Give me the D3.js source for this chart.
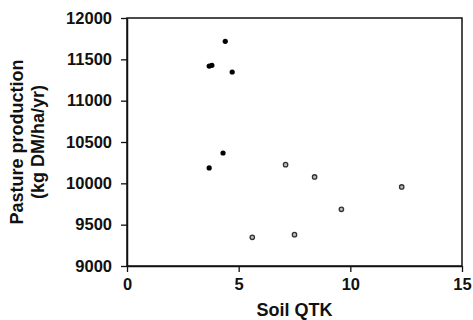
<!DOCTYPE html>
<html><head><meta charset="utf-8">
<script src="https://cdn.jsdelivr.net/npm/d3@7"></script>
<style>body{margin:0;background:#fff}svg{display:block}text{font-family:Arial,"Liberation Sans",sans-serif;font-weight:bold;fill:#111}</style>
</head><body><svg id="c" width="473" height="320"></svg>
<script>
const filledX = [4.40, 3.68, 3.80, 4.71, 4.30, 3.68];
const filledY = [11718, 11419, 11428, 11347, 10367, 10186];
const openX = [7.10, 8.40, 12.30, 9.60, 5.61, 7.50];
const openY = [10226, 10077, 9956, 9686, 9347, 9379];
const xTicks = [0, 5, 10, 15];
const yTicks = [9000, 9500, 10000, 10500, 11000, 11500, 12000];
const xTitle = "Soil QTK";
const yTitle = ["Pasture production", "(kg DM/ha/yr)"];

const svg = d3.select("#c");
const L = 127, R = 462, T = 18, B = 266;
const x = d3.scaleLinear().domain([0, 15]).range([L, R]);
const y = d3.scaleLinear().domain([9000, 12000]).range([B, T]);

// frame
svg.append("rect").attr("x", L).attr("y", T).attr("width", R - L).attr("height", B - T)
  .attr("fill", "none").attr("stroke", "#111").attr("stroke-width", 1.5);

const xa = svg.append("g").attr("transform", `translate(0,${B})`)
  .call(d3.axisBottom(x).tickValues(xTicks).tickSize(6).tickSizeOuter(0).tickPadding(6));
const ya = svg.append("g").attr("transform", `translate(${L},0)`)
  .call(d3.axisLeft(y).tickValues(yTicks).tickSize(6).tickSizeOuter(0).tickPadding(9).tickFormat(d3.format("d")));
[xa, ya].forEach(a => {
  a.select(".domain").attr("stroke", "#111").attr("stroke-width", 1.5);
  a.selectAll(".tick line").attr("stroke", "#111").attr("stroke-width", 1.3);
  a.selectAll("text").style("font-size", "16.5px").style("font-weight", "bold").attr("fill", "#111")
   .style("font-family", "Arial, 'Liberation Sans', sans-serif");
});

svg.append("text").attr("x", (L + R) / 2).attr("y", 316).attr("text-anchor", "middle")
  .style("font-size", "18px").text(xTitle);
yTitle.forEach((t, i) => {
  svg.append("text").attr("transform", `translate(${23 + i * 21},${(T + B) / 2}) rotate(-90)`)
    .attr("text-anchor", "middle").style("font-size", "18px").text(t);
});

const filled = filledX.map((v, i) => ({x: v, y: filledY[i]}));
const open = openX.map((v, i) => ({x: v, y: openY[i]}));
svg.append("g").selectAll("circle").data(filled).join("circle")
  .attr("cx", d => x(d.x)).attr("cy", d => y(d.y)).attr("r", 2.6).attr("fill", "#000");
svg.append("g").selectAll("circle").data(open).join("circle")
  .attr("cx", d => x(d.x)).attr("cy", d => y(d.y)).attr("r", 2.2)
  .attr("fill", "#bbb").attr("stroke", "#333").attr("stroke-width", 1.3);
</script></body></html>
